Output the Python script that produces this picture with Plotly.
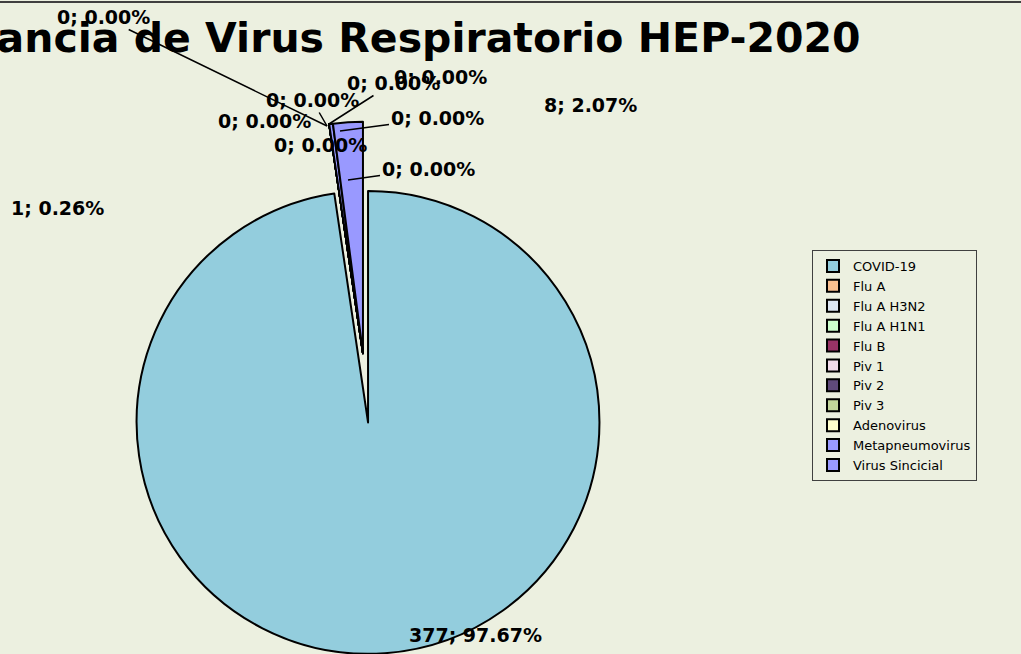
import plotly.graph_objects as go

# data
labels = ['COVID-19', 'Flu A', 'Flu A H3N2', 'Flu A H1N1', 'Flu B', 'Piv 1',
          'Piv 2', 'Piv 3', 'Adenovirus', 'Metapneumovirus', 'Virus Sincicial']
cases = [377, 0, 0, 0, 0, 0, 0, 0, 0, 1, 8]
colors = ['#93CDDD', '#FAC090', '#DCE6F2', '#CCFFCC', '#993366', '#F2DCEB',
          '#604A7B', '#C3D69B', '#FFFFCC', '#9999FF', '#9999FF']
pulls = [0.3, 0, 0, 0, 0, 0, 0, 0, 0, 0, 0]

W, H = 1021, 654
bg = '#ECF0E0'
total = sum(cases)

# label placement (pixels) - text centre and optional leader line end
label_pos = {
    'COVID-19': (475, 635, None),
    'Flu A': (103, 17, (327, 126)),
    'Flu A H3N2': (312, 100, (327, 126)),
    'Flu A H1N1': (264, 121, None),
    'Flu B': (320, 145, None),
    'Piv 1': (393, 83, (329, 124)),
    'Piv 2': (440, 77, None),
    'Piv 3': (437, 118, (340, 131)),
    'Adenovirus': (428, 169, (348, 180)),
    'Metapneumovirus': (57, 208, None),
    'Virus Sincicial': (590, 105, None),
}

fig = go.Figure(go.Pie(
    labels=labels, values=cases, sort=False, direction='clockwise', rotation=0,
    pull=pulls, textinfo='none', hoverinfo='label+value+percent',
    marker=dict(colors=colors, line=dict(color='black', width=2)),
    domain=dict(x=[0, 0.711], y=[0, 0.92]),
))

for lab, v in zip(labels, cases):
    tx, ty, tip = label_pos[lab]
    txt = '<b>%d; %.2f%%</b>' % (v, v / total * 100)
    f = dict(family='DejaVu Sans', size=19, color='black')
    if tip is None:
        fig.add_annotation(x=tx / W, y=1 - ty / H, xref='paper', yref='paper',
                           xanchor='center', yanchor='middle',
                           text=txt, showarrow=False, font=f)
    else:
        fig.add_annotation(x=tip[0] / W, y=1 - tip[1] / H, xref='paper', yref='paper',
                           ax=tx - tip[0], ay=ty - tip[1], text=txt, showarrow=True,
                           arrowhead=0, arrowwidth=1.5, arrowcolor='black', font=f)

fig.add_annotation(x=863 / W, y=1 - 38 / H, xref='paper', yref='paper',
                   xanchor='right', yanchor='middle', showarrow=False,
                   text='<b>Vigilancia de Virus Respiratorio HEP-2020</b>',
                   font=dict(family='DejaVu Sans', size=41, color='black'))

fig.add_shape(type='line', xref='paper', yref='paper', x0=0, x1=1,
              y0=1 - 2 / H, y1=1 - 2 / H, line=dict(color='#404040', width=2))

fig.update_layout(
    width=W, height=H, margin=dict(l=0, r=0, t=0, b=0),
    paper_bgcolor=bg, plot_bgcolor=bg,
    legend=dict(x=812 / W, y=1 - 250 / H, xanchor='left', yanchor='top',
                bgcolor=bg, bordercolor='#404040', borderwidth=1,
                font=dict(family='DejaVu Sans', size=13, color='black'),
                tracegroupgap=0),
)

fig.write_html('out.html', config={'displayModeBar': False},
               post_script="document.body.style.margin='0';")
